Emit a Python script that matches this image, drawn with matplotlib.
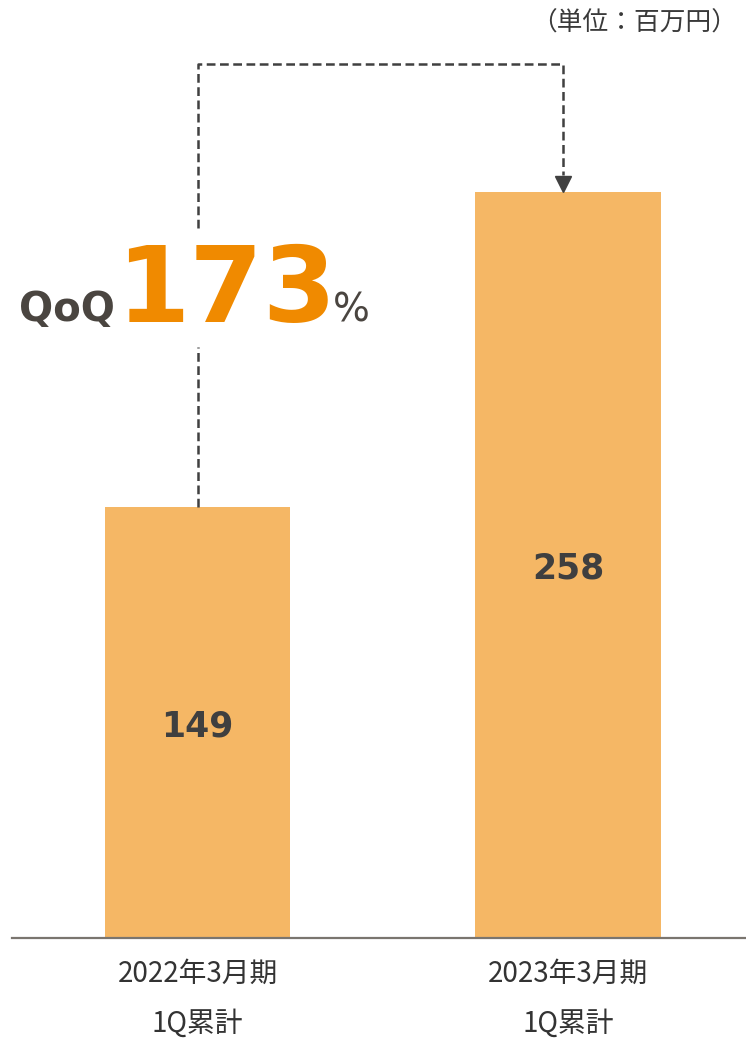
import matplotlib
matplotlib.use("Agg")
import matplotlib.pyplot as plt
import matplotlib.transforms as mtransforms

# ---------------------------------------------------------------------------
# Data
# ---------------------------------------------------------------------------

periods   = ["2022年3月期", "2023年3月期"]
sublabels = ["1Q累計", "1Q累計"]
values    = [149, 258]
qoq_pct   = "173"
unit_text = "（単位：百万円）"

# ---------------------------------------------------------------------------
# Style
# ---------------------------------------------------------------------------

BAR_COLOR    = "#F5B765"
ORANGE       = "#F08A00"
DARK         = "#3F3F3F"
QOQ_DARK     = "#4A4540"
LINE_COLOR   = "#404040"
BASE_COLOR   = "#7A756F"
JP_FONT      = ["Noto Sans CJK JP", "DejaVu Sans"]

W, H = 746, 1041

def px(x, y):
    """Pixel position (from top-left) to figure fraction."""
    return x / W, 1 - y / H

fig = plt.figure(figsize=(W / 100, H / 100), dpi=100)
ax = fig.add_axes([0, 103 / H, 1, 938 / H])
ax.set_xlim(-0.533, 1.480)
ax.set_ylim(0, 324.6)
ax.axis("off")

xs = list(range(len(values)))
ax.bar(xs, values, width=0.5, color=BAR_COLOR, zorder=2)

# baseline
ax.axhline(0, xmin=12 / W, xmax=1, color=BASE_COLOR, lw=1.6, clip_on=False, zorder=3)

# value labels inside bars
for x, v in zip(xs, values):
    ax.text(x, v / 2, str(v), ha="center", va="center_baseline", fontsize=25,
            fontweight="bold", color=DARK, family="DejaVu Sans", zorder=4)

# category labels under the axis
trans = mtransforms.blended_transform_factory(ax.transData, fig.transFigure)
for x, p, s in zip(xs, periods, sublabels):
    ax.text(x, 1 - 974 / H, p, ha="center", va="center", fontsize=20,
            color="#333333", family=JP_FONT, transform=trans)
    ax.text(x, 1 - 1024 / H, s, ha="center", va="center", fontsize=20,
            color="#333333", family=JP_FONT, transform=trans)

# dashed bracket from bar 1 to bar 2
top_y   = 302.4
gap_lo  = 204.5
gap_hi  = 245.7
right_x = xs[1] - 0.0135
dash = dict(color=LINE_COLOR, lw=1.8, dashes=(3.5, 1.8), zorder=3)
ax.plot([xs[0], xs[0]], [values[0], gap_lo], **dash)
ax.plot([xs[0], xs[0], right_x, right_x], [gap_hi, top_y, top_y, values[1] + 6], **dash)
ax.plot([right_x], [values[1] + 3], marker="v", markersize=11.5,
        color=LINE_COLOR, linestyle="none", zorder=4)

# QoQ annotation
fig.text(*px(115, 321), "QoQ", ha="right", va="baseline", fontsize=29,
         fontweight="bold", color=QOQ_DARK, family="DejaVu Sans")
fig.text(*px(226, 322), qoq_pct, ha="center", va="baseline", fontsize=76,
         fontweight="bold", color=ORANGE, family="DejaVu Sans")
fig.text(*px(333, 321), "%", ha="left", va="baseline", fontsize=28,
         color=QOQ_DARK, family="DejaVu Sans")

# unit label
fig.text(*px(737, 24), unit_text, ha="right", va="center", fontsize=18.5,
         color="#3A3A3A", family=JP_FONT)

fig.savefig("out.png", dpi=100)
